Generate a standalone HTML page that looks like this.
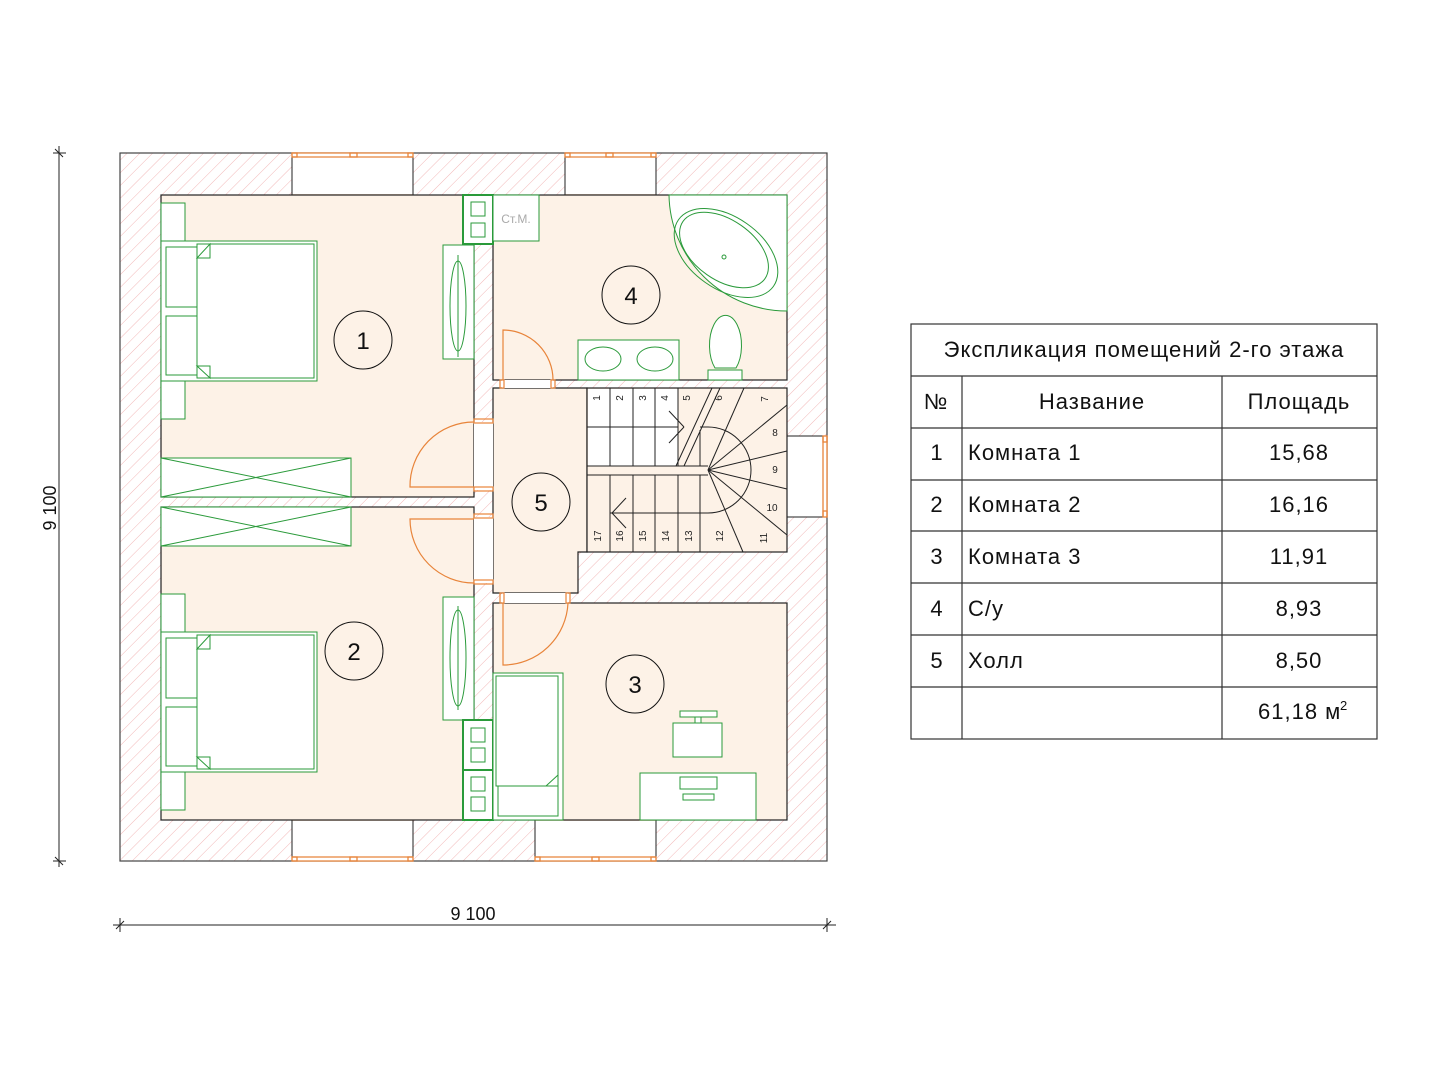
<!DOCTYPE html>
<html><head><meta charset="utf-8"><style>
html,body{margin:0;padding:0;background:#fff;}
svg{display:block;}
text{font-family:"Liberation Sans","DejaVu Sans",sans-serif;}
</style></head><body>
<svg width="1440" height="1080" viewBox="0 0 1440 1080" xmlns="http://www.w3.org/2000/svg">
<defs>
<pattern id="h" patternUnits="userSpaceOnUse" width="9" height="9" patternTransform="rotate(45)">
<rect width="9" height="9" fill="#fff"/>
<line x1="0" y1="0" x2="0" y2="9" stroke="#f2b8b8" stroke-width="1"/>
</pattern>
</defs>
<rect x="120" y="153" width="707" height="708" fill="url(#h)" stroke="#444" stroke-width="1.2"/>
<g fill="#fff" stroke="#222" stroke-width="1">
<rect x="292" y="153" width="121" height="42"/>
<rect x="565" y="153" width="91" height="42"/>
<rect x="292" y="820" width="121" height="41"/>
<rect x="535" y="820" width="121" height="41"/>
<rect x="787" y="436" width="40" height="81"/>
</g>
<g stroke="#e8843a" stroke-width="1.3" fill="none">
<line x1="292" y1="153" x2="413" y2="153"/><line x1="292" y1="157" x2="413" y2="157"/><line x1="292" y1="195" x2="413" y2="195"/>
<rect x="292" y="153" width="5" height="4"/><rect x="350" y="153" width="7" height="4"/><rect x="408" y="153" width="5" height="4"/>
<line x1="565" y1="153" x2="656" y2="153"/><line x1="565" y1="157" x2="656" y2="157"/><line x1="565" y1="195" x2="656" y2="195"/>
<rect x="565" y="153" width="5" height="4"/><rect x="606" y="153" width="7" height="4"/><rect x="651" y="153" width="5" height="4"/>
<line x1="292" y1="861" x2="413" y2="861"/><line x1="292" y1="857" x2="413" y2="857"/><line x1="292" y1="820" x2="413" y2="820"/>
<rect x="292" y="857" width="5" height="4"/><rect x="350" y="857" width="7" height="4"/><rect x="408" y="857" width="5" height="4"/>
<line x1="535" y1="861" x2="656" y2="861"/><line x1="535" y1="857" x2="656" y2="857"/><line x1="535" y1="820" x2="656" y2="820"/>
<rect x="535" y="857" width="5" height="4"/><rect x="592" y="857" width="7" height="4"/><rect x="651" y="857" width="5" height="4"/>
<line x1="827" y1="436" x2="827" y2="517"/><line x1="823" y1="436" x2="823" y2="517"/>
<rect x="823" y="436" width="4" height="6"/><rect x="823" y="511" width="4" height="6"/>
</g>
<g fill="#fdf2e7" stroke="#222" stroke-width="1.2">
<rect x="161" y="195" width="313" height="302"/>
<rect x="161" y="507" width="313" height="313"/>
<rect x="493" y="195" width="294" height="185"/>
<rect x="493" y="603" width="294" height="217"/>
<path d="M493 388 H587 V552 H578 V593 H493 Z"/>
<rect x="587" y="388" width="200" height="164"/>
</g>
<g fill="#fff" stroke="none">
<rect x="474" y="422" width="19" height="68"/>
<rect x="474" y="517" width="19" height="66"/>
<rect x="502" y="380" width="51" height="8"/>
<rect x="502" y="593" width="66" height="10"/>
</g>
<g stroke="#e8843a" stroke-width="1.2" fill="none">
<path d="M474 422 A64 64 0 0 0 410 487 H474"/>
<path d="M474 583 A64 64 0 0 1 410 519 H474"/>
<path d="M503 380 V330 A50 50 0 0 1 553 380"/>
<path d="M503 603 V665 A65 65 0 0 0 568 603"/>
<rect x="474" y="419" width="19" height="4"/><rect x="474" y="487" width="19" height="4"/>
<rect x="474" y="514" width="19" height="4"/><rect x="474" y="580" width="19" height="4"/>
<rect x="500" y="380" width="4" height="8"/><rect x="551" y="380" width="4" height="8"/>
<rect x="500" y="593" width="4" height="10"/><rect x="566" y="593" width="4" height="10"/>
</g>
<g fill="#fff" stroke="none">
<rect x="588" y="389" width="90" height="77"/>
<rect x="588" y="466" width="120" height="9" fill="#fdf2e7"/>
</g>
<g stroke="#222" stroke-width="1" fill="none">
<path d="M610 388 V466 M633 388 V466 M655 388 V466 M678 388 V466 M700 430 V466"/>
<path d="M610 475 V552 M633 475 V552 M655 475 V552 M678 475 V552 M700 475 V552"/>
<line x1="587" y1="427" x2="678" y2="427"/>
<line x1="587" y1="466" x2="708" y2="466"/><line x1="587" y1="475" x2="708" y2="475"/>
<path d="M700 427 H708 A42 42 0 0 1 708 513 H610"/>
<line x1="676" y1="466" x2="712" y2="388"/><line x1="684" y1="466" x2="720" y2="388"/>
<line x1="708" y1="470" x2="744" y2="388"/>
<line x1="708" y1="470" x2="787" y2="405"/>
<line x1="708" y1="470" x2="787" y2="451"/>
<line x1="708" y1="470" x2="787" y2="489"/>
<line x1="708" y1="470" x2="787" y2="535"/>
<line x1="708" y1="470" x2="743" y2="552"/>
<line x1="669" y1="411" x2="684" y2="427"/><line x1="669" y1="443" x2="684" y2="427"/>
<line x1="626" y1="498" x2="612" y2="513"/><line x1="626" y1="528" x2="612" y2="513"/>
</g>
<g font-size="10" fill="#222" text-anchor="middle">
<text transform="translate(600,398) rotate(-90)">1</text>
<text transform="translate(623,398) rotate(-90)">2</text>
<text transform="translate(646,398) rotate(-90)">3</text>
<text transform="translate(668,398) rotate(-90)">4</text>
<text transform="translate(690,398) rotate(-90)">5</text>
<text transform="translate(722,398) rotate(-90)">6</text>
<text transform="translate(768,399) rotate(-90)">7</text>
<text x="775" y="436">8</text><text x="775" y="473">9</text><text x="772" y="511">10</text>
<text transform="translate(767,538) rotate(-90)">11</text>
<text transform="translate(723,536) rotate(-90)">12</text>
<text transform="translate(692,536) rotate(-90)">13</text>
<text transform="translate(669,536) rotate(-90)">14</text>
<text transform="translate(646,536) rotate(-90)">15</text>
<text transform="translate(623,536) rotate(-90)">16</text>
<text transform="translate(601,536) rotate(-90)">17</text>
</g>
<g stroke="#2a9a3a" stroke-width="1" fill="#fff">
<rect x="161" y="203" width="24" height="38"/><rect x="161" y="381" width="24" height="38"/>
<rect x="161" y="241" width="156" height="140"/>
<path d="M197 244 H314 V378 H197 Z"/>
<rect x="166" y="247" width="31" height="60"/><rect x="166" y="316" width="31" height="59"/>
<path d="M197 258 L210 244 V258 Z M197 366 L210 378 V366 Z"/>
<rect x="161" y="594" width="24" height="38"/><rect x="161" y="772" width="24" height="38"/>
<rect x="161" y="632" width="156" height="140"/>
<path d="M197 635 H314 V769 H197 Z"/>
<rect x="166" y="638" width="31" height="60"/><rect x="166" y="707" width="31" height="59"/>
<path d="M197 649 L210 635 V649 Z M197 757 L210 769 V757 Z"/>
<rect x="161" y="458" width="190" height="39"/><path d="M161 458 L351 497 M351 458 L161 497"/>
<rect x="161" y="507" width="190" height="39"/><path d="M161 507 L351 546 M351 507 L161 546"/>
<rect x="443" y="245" width="31" height="114"/>
<ellipse cx="458" cy="306" rx="8" ry="45" fill="none"/><line x1="458" y1="255" x2="458" y2="357"/>
<rect x="443" y="597" width="31" height="123"/>
<ellipse cx="458" cy="658" rx="8" ry="48" fill="none"/><line x1="458" y1="606" x2="458" y2="710"/>
<rect x="463" y="195" width="30" height="49" stroke-width="2"/>
<rect x="471" y="202" width="14" height="14"/><rect x="471" y="223" width="14" height="14"/>
<rect x="463" y="720" width="30" height="50" stroke-width="2"/><rect x="463" y="770" width="30" height="50" stroke-width="2"/>
<rect x="471" y="728" width="14" height="14"/><rect x="471" y="748" width="14" height="14"/>
<rect x="471" y="777" width="14" height="14"/><rect x="471" y="797" width="14" height="14"/>
<rect x="493" y="195" width="46" height="46"/>
<path d="M669 195 H787 V311 A118 118 0 0 1 669 195 Z"/>
<ellipse cx="726" cy="253" rx="58" ry="36" transform="rotate(35 726 253)" fill="none"/>
<ellipse cx="724" cy="250" rx="50" ry="30" transform="rotate(35 724 250)" fill="none"/>
<circle cx="724" cy="257" r="2"/>
<rect x="578" y="340" width="101" height="40"/>
<ellipse cx="603" cy="359" rx="18" ry="12" fill="none"/><ellipse cx="655" cy="359" rx="18" ry="12" fill="none"/>
<path d="M715 368 A16 30 0 1 1 736 368 Z"/>
<path d="M708 370 H742 V380 H708 Z"/>
<rect x="493" y="673" width="70" height="147"/>
<rect x="496" y="676" width="62" height="110"/><rect x="498" y="786" width="60" height="30"/>
<path d="M546 786 L558 775 V786 Z"/>
<rect x="640" y="773" width="116" height="47"/>
<rect x="680" y="777" width="37" height="12"/><rect x="683" y="794" width="31" height="6"/>
<rect x="673" y="723" width="49" height="34"/><rect x="680" y="711" width="37" height="6"/><rect x="695" y="717" width="6" height="6"/>
</g>
<text x="516" y="223" font-size="12" fill="#aaa" text-anchor="middle">Ст.М.</text>
<g fill="none" stroke="#111" stroke-width="1">
<circle cx="363" cy="340" r="29"/><circle cx="354" cy="651" r="29"/><circle cx="635" cy="684" r="29"/><circle cx="631" cy="295" r="29"/><circle cx="541" cy="502" r="29"/>
</g>
<g font-size="24" fill="#111" text-anchor="middle">
<text x="363" y="349">1</text><text x="354" y="660">2</text><text x="635" y="693">3</text><text x="631" y="304">4</text><text x="541" y="511">5</text>
</g>
<g stroke="#222" stroke-width="1">
<line x1="59" y1="146" x2="59" y2="867"/><line x1="53" y1="153" x2="66" y2="153"/><line x1="53" y1="861" x2="66" y2="861"/>
<line x1="55" y1="149" x2="63" y2="157"/><line x1="55" y1="857" x2="63" y2="865"/>
<line x1="113" y1="925" x2="836" y2="925"/><line x1="120" y1="918" x2="120" y2="932"/><line x1="827" y1="918" x2="827" y2="932"/>
<line x1="116" y1="929" x2="124" y2="921"/><line x1="823" y1="929" x2="831" y2="921"/>
</g>
<g font-size="18" fill="#111" text-anchor="middle">
<text x="473" y="920">9 100</text>
<text transform="translate(56,508) rotate(-90)">9 100</text>
</g>
<g stroke="#333" stroke-width="1.2" fill="none">
<rect x="911" y="324" width="466" height="415"/>
<line x1="911" y1="376" x2="1377" y2="376"/><line x1="911" y1="428" x2="1377" y2="428"/>
<line x1="911" y1="480" x2="1377" y2="480"/><line x1="911" y1="531" x2="1377" y2="531"/>
<line x1="911" y1="583" x2="1377" y2="583"/><line x1="911" y1="635" x2="1377" y2="635"/>
<line x1="911" y1="687" x2="1377" y2="687"/>
<line x1="962" y1="376" x2="962" y2="739"/><line x1="1222" y1="376" x2="1222" y2="739"/>
</g>
<g font-size="22" fill="#111" letter-spacing="1">
<text x="1144" y="357" text-anchor="middle">Экспликация помещений 2-го этажа</text>
<text x="936" y="409" text-anchor="middle">№</text>
<text x="1092" y="409" text-anchor="middle">Название</text>
<text x="1299" y="409" text-anchor="middle">Площадь</text>
<text x="937" y="460" text-anchor="middle">1</text><text x="968" y="460">Комната 1</text><text x="1299" y="460" text-anchor="middle">15,68</text>
<text x="937" y="512" text-anchor="middle">2</text><text x="968" y="512">Комната 2</text><text x="1299" y="512" text-anchor="middle">16,16</text>
<text x="937" y="564" text-anchor="middle">3</text><text x="968" y="564">Комната 3</text><text x="1299" y="564" text-anchor="middle">11,91</text>
<text x="937" y="616" text-anchor="middle">4</text><text x="968" y="616">С/у</text><text x="1299" y="616" text-anchor="middle">8,93</text>
<text x="937" y="668" text-anchor="middle">5</text><text x="968" y="668">Холл</text><text x="1299" y="668" text-anchor="middle">8,50</text>
<text x="1258" y="719">61,18 м</text><text x="1340" y="710" font-size="13">2</text>
</g>
</svg>
</body></html>
